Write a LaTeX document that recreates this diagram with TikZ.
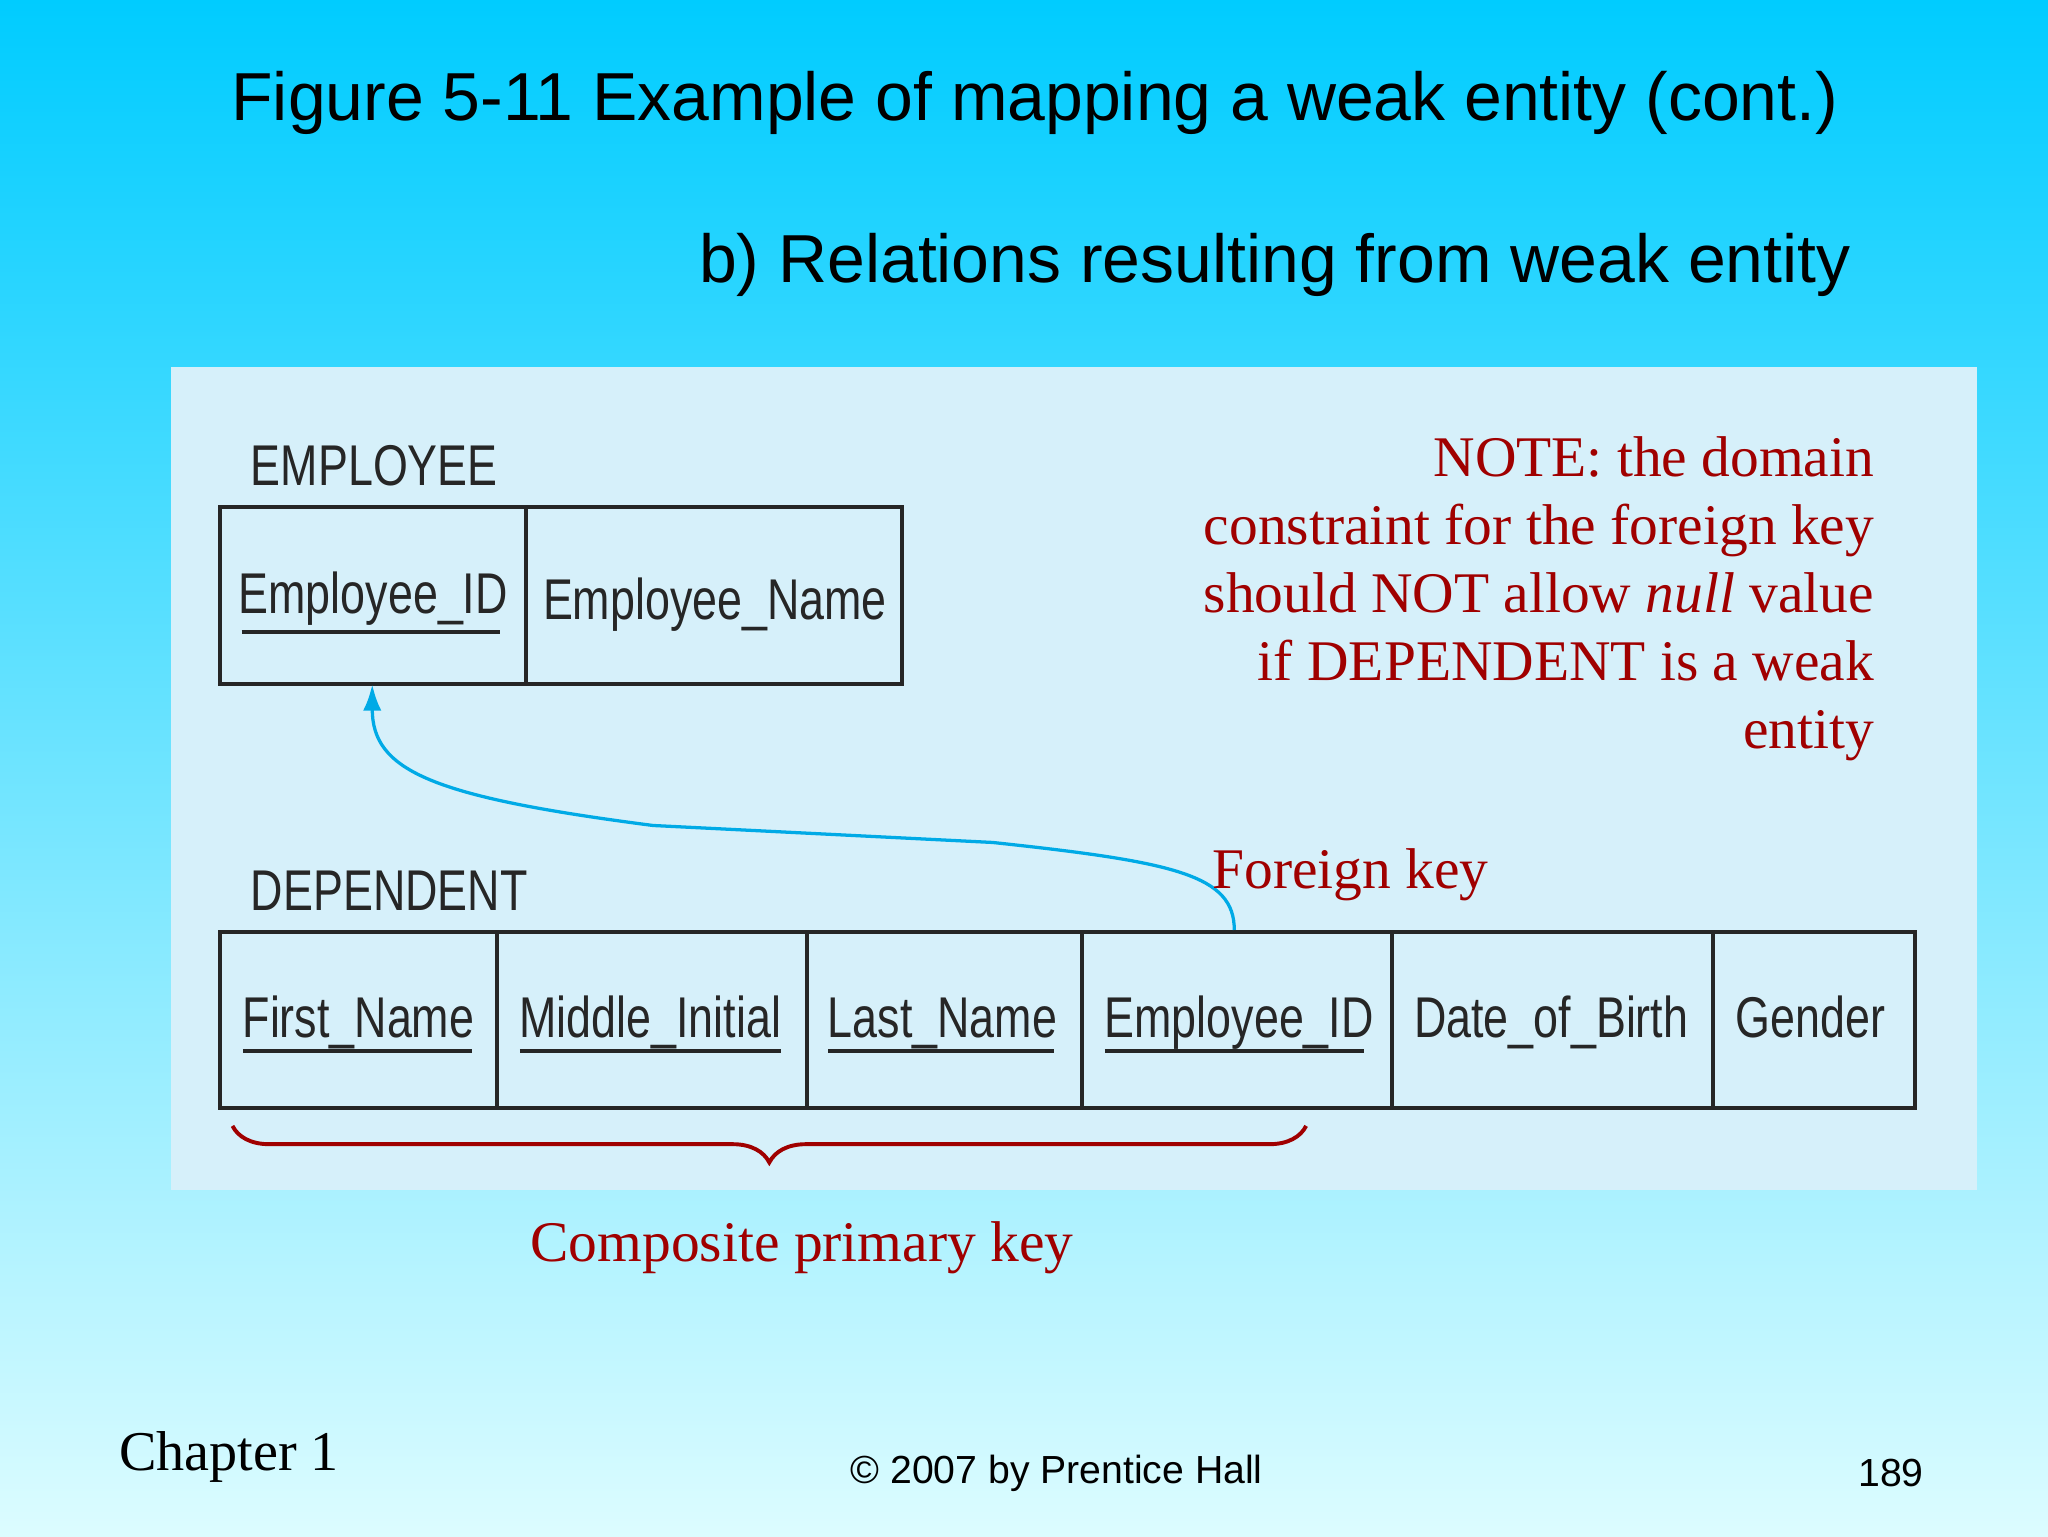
\documentclass[tikz,border=0pt]{standalone}
\usepackage{fontspec}
\setmainfont{Liberation Serif}
\newfontfamily\ars{Liberation Sans}
\usetikzlibrary{decorations.pathreplacing,arrows.meta}
\definecolor{topc}{RGB}{0,204,255}
\definecolor{botc}{RGB}{220,252,255}
\definecolor{panel}{RGB}{214,240,250}
\definecolor{dred}{RGB}{160,0,0}
\definecolor{fk}{RGB}{0,170,230}
\tikzset{cell/.style={draw=black!85,line width=3pt,minimum height=135pt,anchor=north west,inner sep=0pt},
 ctext/.style={font=\ars\fontsize{44}{44}\selectfont,xscale=0.78,anchor=base west,text=black!85},
 lbl/.style={font=\ars\fontsize{44}{44}\selectfont,xscale=0.78,anchor=base west,text=black!85},
 ul/.style={line width=3pt,black!85},
 red/.style={text=dred,font=\fontsize{44}{52}\selectfont}}
\begin{document}
\begin{tikzpicture}[x=1pt,y=-1pt]
\useasboundingbox (0,0) rectangle (1568,1176);
\shade[top color=topc,bottom color=botc] (0,0) rectangle (1568,1176);
\fill[panel] (131,281) rectangle (1514,911);
\node[anchor=base west,font=\ars\fontsize{52}{52}\selectfont,inner sep=0pt] (t1) at (177,92) {Figure 5-11 Example of mapping a weak entity (cont.)};
\node[anchor=base east,font=\ars\fontsize{52}{52}\selectfont,inner sep=0pt] (t2) at (1417,216) {b) Relations resulting from weak entity};
\node[lbl,inner sep=0pt] (emp) at (192,372) {EMPLOYEE};
\node[lbl,inner sep=0pt] (dep) at (192,697) {DEPENDENT};
% EMPLOYEE
\node[cell,minimum width=234pt] (e1) at (167,387) {};
\node[cell,minimum width=288pt] (e2) at (401,387) {};
\node[ctext] (e1t) at (180,470) {Employee\_ID};
\node[ctext] (e2t) at (413,474) {Employee\_Name};
\draw[ul] (185,484) -- (383,484);
% DEPENDENT
\node[cell,minimum width=212pt] (d1) at (167,712) {};
\node[cell,minimum width=237pt] (d2) at (379,712) {};
\node[cell,minimum width=211pt] (d3) at (616,712) {};
\node[cell,minimum width=237pt] (d4) at (827,712) {};
\node[cell,minimum width=246pt] (d5) at (1064,712) {};
\node[cell,minimum width=155pt] (d6) at (1310,712) {};
\node[ctext] (d1t) at (183,794) {First\_Name};
\node[ctext] (d2t) at (395,794) {Middle\_Initial};
\node[ctext] (d3t) at (631,794) {Last\_Name};
\node[ctext] (d4t) at (843,794) {Employee\_ID};
\node[ctext] (d5t) at (1080,794) {Date\_of\_Birth};
\node[ctext] (d6t) at (1326,794) {Gender};
\draw[ul] (186,805) -- (361,805);
\draw[ul] (398,805) -- (598,805);
\draw[ul] (634,805) -- (807,805);
\draw[ul] (846,805) -- (1044,805);
% foreign key arrow
\coordinate (fkst) at (945,712);
\coordinate (fken) at (285,524);
\draw[fk,line width=2.5pt,-{Latex[length=20pt,width=14pt]}] (fkst) .. controls (945,670) and (900,660) .. (760,645) -- (500,632) .. controls (330,610) and (285,590) .. (fken);
\node[red,anchor=base west,inner sep=0pt] (fkl) at (928,680) {Foreign key};
% note
\node[red,align=right,anchor=north east,inner sep=0pt] (note) at (1435,334) {NOTE: the domain\\constraint for the foreign key\\should NOT allow \textit{null} value\\if DEPENDENT is a weak\\entity};
% brace
\coordinate (b1) at (178,862);
\coordinate (b2) at (1000,862);
\draw[dred,line width=3pt,decorate,decoration={brace,mirror,amplitude=28pt}] (b1) -- (b2);
\node[red,anchor=base,inner sep=0pt] (cpk) at (614,966) {Composite primary key};
% footer
\node[anchor=base west,font=\fontsize{43}{43}\selectfont,inner sep=0pt] (ch) at (91,1126) {Chapter 1};
\node[anchor=base,font=\ars\fontsize{30}{30}\selectfont,inner sep=0pt] (cp) at (809,1136) {\textcopyright{} 2007 by Prentice Hall};
\node[anchor=base east,font=\ars\fontsize{30}{30}\selectfont,inner sep=0pt] (pg) at (1473,1138) {189};
\end{tikzpicture}
\end{document}
